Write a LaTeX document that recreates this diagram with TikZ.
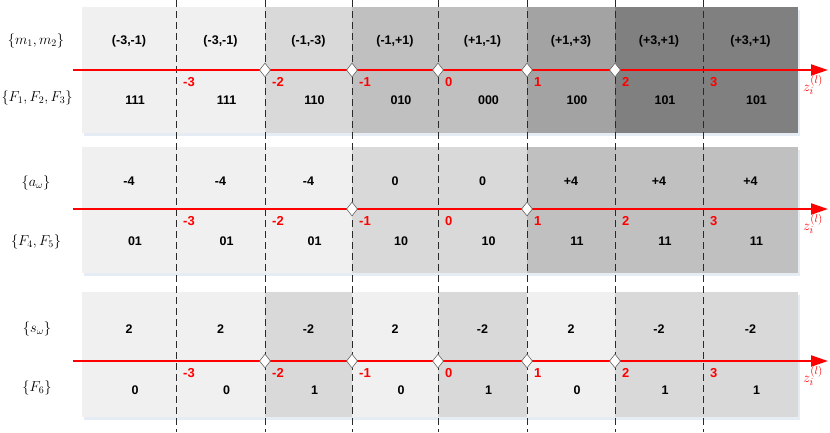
\documentclass[tikz,border=0pt]{standalone}
\usepackage{fontspec}
\newfontfamily\hv{Liberation Sans}
\usetikzlibrary{shapes.geometric,arrows.meta}
\definecolor{gA}{HTML}{F0F0F0}
\definecolor{gB}{HTML}{D9D9D9}
\definecolor{gC}{HTML}{C0C0C0}
\definecolor{gD}{HTML}{A3A3A3}
\definecolor{gE}{HTML}{808080}
\definecolor{shd}{HTML}{E6ECF3}
\definecolor{axred}{HTML}{FF0000}
\definecolor{dashc}{HTML}{2A2A2A}
\tikzset{
  cell/.style={font=\hv\bfseries\fontsize{12.5}{14}\selectfont, text=black, inner sep=0pt},
  num/.style={font=\hv\bfseries\fontsize{13}{15}\selectfont, text=axred, inner sep=0pt, anchor=west},
  lab/.style={font=\fontsize{14.5}{16}\selectfont, inner sep=0pt},
  zlab/.style={font=\fontsize{15}{17}\selectfont, text=axred, inner sep=0pt},
  dashline/.style={draw=dashc, line width=1pt, dash pattern=on 7pt off 4pt},
  axisline/.style={draw=axred, line width=2pt, -{Triangle[length=17pt,width=11pt]}},
  dia/.style={diamond, draw=gray!80!black, fill=white, line width=0.6pt, minimum width=11pt, minimum height=14pt, inner sep=0pt},
}
\begin{document}
\begin{tikzpicture}[x=1pt,y=-1pt]
\useasboundingbox (0,0) rectangle (830,432);
% shadows
\foreach \ya/\yb in {7/133,147/273,292/417}{
  \fill[shd] (84,\ya+3) rectangle (800,\yb+3);
}
% top band
\foreach \xa/\xb/\c/\u/\l [count=\k] in {
  82/176/gA/{(-3,-1)}/111, 176/265/gA/{(-3,-1)}/111, 265/352/gB/{(-1,-3)}/110,
  352/438/gC/{(-1,+1)}/010, 438/527/gC/{(+1,-1)}/000, 527/615/gD/{(+1,+3)}/100,
  615/703/gE/{(+3,+1)}/101, 703/798/gE/{(+3,+1)}/101}{
  \fill[\c] (\xa,7) rectangle (\xb,133);
  \node[cell] (tu\k) at ({(\xa+\xb)/2},41) {\u};
  \node[cell] (tl\k) at ({(\xa+\xb)/2+6},100) {\l};
}
% middle band
\foreach \xa/\xb/\c/\u/\l [count=\k] in {
  82/176/gA/-4/01, 176/265/gA/-4/01, 265/352/gA/-4/01,
  352/438/gB/0/10, 438/527/gB/0/10, 527/615/gC/+4/11,
  615/703/gC/+4/11, 703/798/gC/+4/11}{
  \fill[\c] (\xa,147) rectangle (\xb,273);
  \node[cell] (mu\k) at ({(\xa+\xb)/2},181) {\u};
  \node[cell] (ml\k) at ({(\xa+\xb)/2+6},241) {\l};
}
% bottom band
\foreach \xa/\xb/\c/\u/\l [count=\k] in {
  82/176/gA/2/0, 176/265/gA/2/0, 265/352/gB/-2/1,
  352/438/gA/2/0, 438/527/gB/-2/1, 527/615/gA/2/0,
  615/703/gB/-2/1, 703/798/gB/-2/1}{
  \fill[\c] (\xa,292) rectangle (\xb,417);
  \node[cell] (bu\k) at ({(\xa+\xb)/2},329) {\u};
  \node[cell] (bl\k) at ({(\xa+\xb)/2+6},390) {\l};
}
% dashed dividers
\foreach \x in {176,265,352,438,527,615,703}{
  \draw[dashline] (\x,0) -- (\x,432);
}
% axes
\foreach \ya/\nm in {70/t,209/m,361/b}{
  \coordinate (\nm s) at (73,\ya);
  \coordinate (\nm e) at (828,\ya);
  \draw[axisline] (\nm s) -- (\nm e);
  \node[zlab] (\nm z) at (813,\ya+15) {$z_i^{(l)}$};
  \foreach \x/\v in {176/-3,265/-2,352/-1,438/0,527/1,615/2,703/3}{
    \node[num] at (\x+7,\ya+12) {\v};
  }
}
% diamonds
\foreach \x in {265,352,438,527,615}{ \node[dia] at (\x,70) {}; }
\foreach \x in {352,527}{ \node[dia] at (\x,209) {}; }
\foreach \x in {265,352,438,527,615}{ \node[dia] at (\x,361) {}; }
% left labels
\node[lab] (l1) at (36,41) {$\{m_1,m_2\}$};
\node[lab] (l2) at (37,98) {$\{F_1,F_2,F_3\}$};
\node[lab] (l3) at (36,183) {$\{a_\omega\}$};
\node[lab] (l4) at (36,242) {$\{F_4,F_5\}$};
\node[lab] (l5) at (37,329) {$\{s_\omega\}$};
\node[lab] (l6) at (37,388) {$\{F_6\}$};
\end{tikzpicture}
\end{document}
